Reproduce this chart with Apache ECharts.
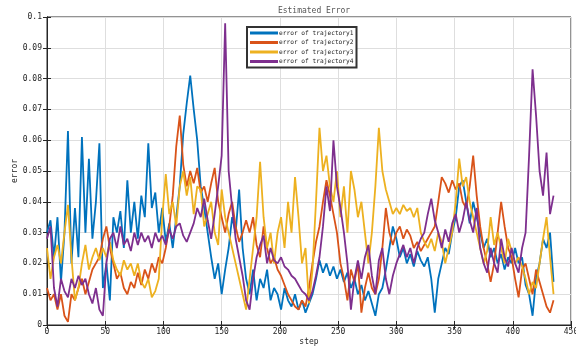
<!DOCTYPE html>
<html><head><meta charset="utf-8">
<script src="https://cdn.jsdelivr.net/npm/echarts@6/dist/echarts.min.js"></script>
<style>html,body{margin:0;padding:0;background:#fff}#c{width:576px;height:346px}</style>
</head><body><div id="c"></div>
<script>
const steps = [];
for (let s = 0; s <= 435; s += 3) steps.push(s);

const traj1 = [
0.030,0.034,0.022,0.035,0.014,0.030,0.063,0.020,0.038,0.022,
0.061,0.030,0.054,0.028,0.040,0.059,0.012,0.020,0.008,0.035,
0.030,0.037,0.025,0.047,0.030,0.040,0.028,0.042,0.035,0.059,
0.038,0.043,0.030,0.038,0.027,0.033,0.025,0.035,0.045,0.062,
0.072,0.081,0.070,0.060,0.045,0.038,0.030,0.022,0.015,0.020,
0.010,0.018,0.025,0.035,0.030,0.044,0.025,0.015,0.010,0.018,
0.008,0.015,0.012,0.018,0.008,0.012,0.010,0.005,0.012,0.008,
0.006,0.010,0.005,0.008,0.004,0.007,0.010,0.015,0.021,0.017,
0.020,0.016,0.019,0.015,0.018,0.014,0.017,0.012,0.015,0.010,
0.013,0.008,0.011,0.007,0.003,0.010,0.012,0.018,0.025,0.032,
0.028,0.022,0.025,0.020,0.023,0.019,0.024,0.021,0.019,0.022,
0.015,0.004,0.015,0.020,0.025,0.023,0.030,0.035,0.045,0.047,
0.040,0.033,0.040,0.035,0.030,0.025,0.028,0.022,0.025,0.020,
0.023,0.018,0.022,0.020,0.025,0.020,0.022,0.013,0.010,0.003,
0.015,0.020,0.028,0.025,0.030,0.014];

const traj2 = [
0.012,0.008,0.010,0.005,0.010,0.003,0.001,0.010,0.008,0.012,
0.015,0.010,0.014,0.018,0.020,0.022,0.028,0.032,0.025,0.020,
0.015,0.017,0.012,0.010,0.014,0.012,0.017,0.013,0.018,0.015,
0.020,0.017,0.022,0.020,0.025,0.032,0.042,0.058,0.068,0.052,
0.045,0.050,0.046,0.051,0.043,0.045,0.040,0.046,0.051,0.040,
0.035,0.030,0.036,0.040,0.032,0.027,0.030,0.034,0.030,0.035,
0.026,0.022,0.032,0.025,0.020,0.022,0.018,0.016,0.013,0.010,
0.008,0.006,0.005,0.008,0.006,0.012,0.020,0.027,0.032,0.040,
0.047,0.042,0.036,0.030,0.020,0.015,0.008,0.018,0.014,0.020,
0.004,0.012,0.017,0.012,0.010,0.015,0.025,0.038,0.030,0.026,
0.030,0.032,0.028,0.031,0.029,0.025,0.027,0.024,0.026,0.028,
0.030,0.032,0.040,0.048,0.046,0.043,0.047,0.044,0.046,0.040,
0.038,0.045,0.055,0.042,0.032,0.025,0.020,0.014,0.020,0.030,
0.040,0.032,0.025,0.022,0.015,0.009,0.018,0.020,0.015,0.010,
0.018,0.014,0.010,0.006,0.004,0.008];

const traj3 = [
0.025,0.015,0.022,0.026,0.020,0.030,0.039,0.022,0.008,0.012,
0.020,0.026,0.018,0.022,0.025,0.021,0.025,0.022,0.027,0.021,
0.018,0.016,0.021,0.018,0.020,0.016,0.020,0.014,0.012,0.015,
0.009,0.011,0.015,0.035,0.049,0.036,0.040,0.032,0.045,0.050,
0.042,0.048,0.036,0.045,0.044,0.032,0.036,0.040,0.030,0.026,
0.044,0.035,0.030,0.025,0.020,0.015,0.010,0.005,0.015,0.025,
0.035,0.053,0.035,0.025,0.030,0.020,0.030,0.035,0.025,0.040,
0.030,0.048,0.035,0.020,0.025,0.007,0.018,0.040,0.064,0.050,
0.055,0.045,0.040,0.050,0.035,0.045,0.030,0.050,0.044,0.035,
0.040,0.030,0.020,0.030,0.045,0.064,0.050,0.044,0.040,0.036,
0.038,0.036,0.039,0.037,0.038,0.035,0.038,0.030,0.027,0.025,
0.028,0.024,0.030,0.027,0.020,0.025,0.030,0.040,0.054,0.045,
0.048,0.040,0.035,0.030,0.025,0.020,0.024,0.035,0.026,0.030,
0.025,0.020,0.028,0.024,0.020,0.022,0.019,0.015,0.010,0.014,
0.012,0.020,0.028,0.035,0.022,0.010];

const traj4 = [
0.028,0.032,0.012,0.006,0.015,0.011,0.009,0.015,0.012,0.016,
0.013,0.015,0.010,0.007,0.012,0.005,0.003,0.020,0.028,0.030,
0.025,0.032,0.026,0.028,0.024,0.030,0.026,0.030,0.027,0.029,
0.025,0.030,0.027,0.029,0.026,0.031,0.028,0.032,0.033,0.029,
0.027,0.030,0.033,0.038,0.035,0.041,0.034,0.028,0.036,0.045,
0.055,0.098,0.050,0.038,0.028,0.022,0.016,0.008,0.005,0.015,
0.022,0.026,0.029,0.020,0.025,0.021,0.020,0.022,0.019,0.018,
0.016,0.015,0.013,0.011,0.010,0.008,0.011,0.016,0.022,0.032,
0.045,0.037,0.060,0.045,0.038,0.030,0.020,0.005,0.015,0.021,
0.015,0.022,0.026,0.016,0.010,0.021,0.025,0.015,0.010,0.016,
0.020,0.023,0.026,0.022,0.025,0.020,0.025,0.028,0.030,0.036,
0.041,0.034,0.030,0.025,0.031,0.027,0.033,0.036,0.030,0.034,
0.040,0.034,0.030,0.038,0.025,0.020,0.017,0.025,0.020,0.017,
0.028,0.022,0.019,0.025,0.020,0.017,0.025,0.030,0.055,0.083,
0.068,0.050,0.042,0.056,0.036,0.042];

const seriesNames = ['error of trajectory1','error of trajectory2','error of trajectory3','error of trajectory4'];
const seriesColors = ['#0072BD','#D95319','#EDB120','#7E2F8E'];
const xTicks = [0,50,100,150,200,250,300,350,400,450];
const yTickLabels = ['0','0.01','0.02','0.03','0.04','0.05','0.06','0.07','0.08','0.09','0.1'];

const font = 'DejaVu Sans Mono';
const txt = '#262626';
const data = [traj1, traj2, traj3, traj4];

const chart = echarts.init(document.getElementById('c'), null, {renderer: 'canvas'});
const gridLine = {show: true, lineStyle: {color: '#dedede', width: 1}};
chart.setOption({
  animation: false,
  backgroundColor: '#fff',
  title: {text: 'Estimated Error', left: 309, top: 2, textAlign: 'center',
    textStyle: {fontFamily: font, fontSize: 8, fontWeight: 'normal', color: '#555'}},
  legend: {
    data: seriesNames, orient: 'vertical', left: 247, top: 27,
    icon: 'rect', itemWidth: 28, itemHeight: 3, itemGap: 3.5,
    borderColor: '#333', borderWidth: 2, backgroundColor: '#fff',
    padding: [3, 3, 3, 3],
    textStyle: {fontFamily: font, fontSize: 6.2, color: txt, padding: [0,0,0,-4]}
  },
  grid: {left: 47, right: 5, top: 17, bottom: 21, show: true, borderColor: '#262626', borderWidth: 1,
    containLabel: false, outerBoundsMode: 'none'},
  xAxis: [{
    type: 'value', min: 0, max: 450, interval: 50, position: 'bottom',
    name: 'step', nameLocation: 'middle', nameGap: 13, nameMoveOverlap: false,
    nameTextStyle: {fontFamily: font, fontSize: 8, color: txt},
    axisLine: {show: true, lineStyle: {color: '#262626'}},
    axisTick: {show: true, inside: true, length: 4, lineStyle: {color: '#262626'}},
    axisLabel: {fontFamily: font, fontSize: 8, color: txt, margin: 3,
      formatter: v => xTicks.includes(v) ? String(v) : ''},
    splitLine: gridLine
  }, {
    type: 'value', min: 0, max: 450, interval: 50, position: 'top',
    axisLine: {show: true, lineStyle: {color: '#262626'}},
    axisTick: {show: true, inside: true, length: 4, lineStyle: {color: '#262626'}},
    axisLabel: {show: false}, splitLine: {show: false}
  }],
  yAxis: [{
    type: 'value', min: 0, max: 0.1, interval: 0.01, position: 'left',
    name: 'error', nameLocation: 'middle', nameGap: 28, nameMoveOverlap: false,
    nameTextStyle: {fontFamily: font, fontSize: 8, color: txt},
    axisLine: {show: true, lineStyle: {color: '#262626'}},
    axisTick: {show: true, inside: true, length: 4, lineStyle: {color: '#262626'}},
    axisLabel: {fontFamily: font, fontSize: 8, color: txt, margin: 5,
      formatter: v => yTickLabels[Math.round(v * 100)]},
    splitLine: gridLine
  }, {
    type: 'value', min: 0, max: 0.1, interval: 0.01, position: 'right',
    axisLine: {show: true, lineStyle: {color: '#262626'}},
    axisTick: {show: true, inside: true, length: 4, lineStyle: {color: '#262626'}},
    axisLabel: {show: false}, splitLine: {show: false}
  }],
  series: data.map((d, i) => ({
    name: seriesNames[i], type: 'line', showSymbol: false, symbol: 'none',
    color: seriesColors[i],
    lineStyle: {width: 1.8, color: seriesColors[i]},
    data: steps.map((s, j) => [s, d[j]]),
    z: 2 + i
  }))
});
</script></body></html>
